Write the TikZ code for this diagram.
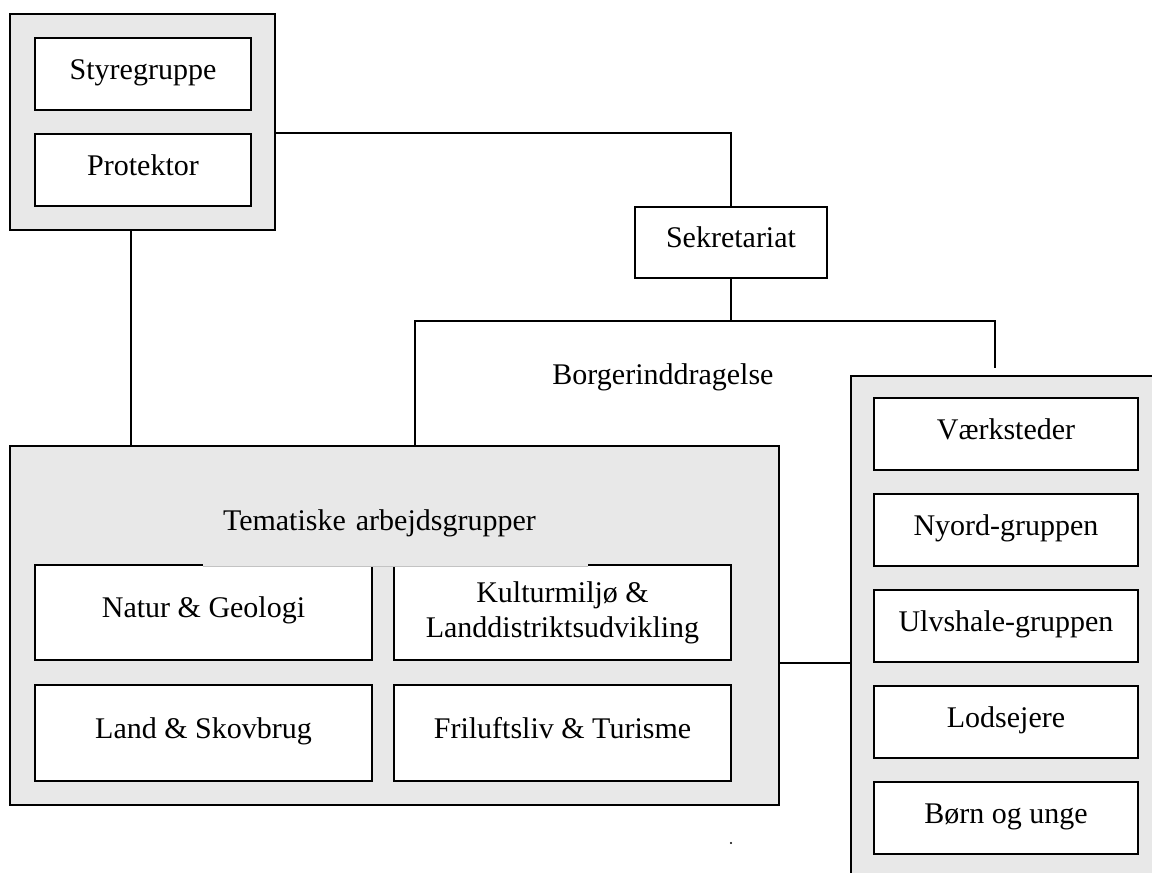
\documentclass[tikz,border=0pt]{standalone}
\usepackage{fontspec}
\setmainfont{Liberation Serif}
\usetikzlibrary{positioning}
\definecolor{panelgray}{RGB}{232,232,232}
\definecolor{covergray}{RGB}{195,195,195}
\tikzset{
  panel/.style={draw, fill=panelgray, line width=1.8pt, rectangle},
  unit/.style={draw, fill=white, line width=1.8pt, rectangle, align=center,
    font=\fontsize{30}{35}\selectfont},
  oneline/.style={text height=22pt, text depth=12pt}
}
\begin{document}
\begin{tikzpicture}[x=1pt,y=-1pt,line cap=butt]
		\useasboundingbox (0,0) rectangle (1152,873);
		% top group
		\node[panel, minimum width=265pt, minimum height=216pt] (lead) at (142.5,122) {};
		\node[unit, oneline, minimum width=216pt, minimum height=72pt] (styr) at (143,74) {Styregruppe};
		\node[unit, oneline, minimum width=216pt, minimum height=72pt] (prot) at (143,170) {Protektor};
		\node[unit, oneline, minimum width=192pt, minimum height=71pt] (sekr) at (731,242.5) {Sekretariat};
		% thematic groups
		\node[panel, minimum width=769pt, minimum height=359pt] (tema) at (394.5,625.5) {};
		\node[unit, oneline, minimum width=337pt, minimum height=95pt] (natur) at (203.5,612.5) {Natur \& Geologi};
		\node[unit, minimum width=337pt, minimum height=95pt] (kultur) at (562.5,612.5) {Kulturmiljø \&\\Landdistriktsudvikling};
		\node[unit, oneline, minimum width=337pt, minimum height=96pt] (land) at (203.5,733) {Land \& Skovbrug};
		\node[unit, oneline, minimum width=337pt, minimum height=96pt] (frilu) at (562.5,733) {Friluftsliv \& Turisme};
		\node[fill=panelgray, minimum height=86pt, inner xsep=20pt, text width=345pt, align=left,
		  font=\fontsize{30}{35}\selectfont] (tematitle) at (395.5,523) {Tematiske arbejdsgrupper};
		\draw[covergray, line width=1pt] (tematitle.south west) -- (tematitle.south east);
		% citizen involvement
		\node[panel, minimum width=329pt, minimum height=524pt] (side) at (1015.5,638) {};
		\foreach \name/\txt [count=\i from 0] in {vaerk/Værksteder, nyord/Nyord-gruppen, ulvs/Ulvshale-gruppen, lods/Lodsejere, born/Børn og unge}
		\node[unit, oneline, minimum width=264pt, minimum height=72pt] (\name) at (1006,434+96*\i) {\txt};
		\node[font=\fontsize{30}{35}\selectfont] (borger) at (663,377) {Borgerinddragelse};
		% connectors
		\coordinate (forkL) at (415,321);
		\coordinate (forkR) at (995,321);
		\draw[line width=1.5pt] (lead.east |- prot.north) -| (sekr.north);
		\draw[line width=1.5pt] (sekr.south) -- (sekr.south |- forkL);
		\draw[line width=1.5pt] (forkL |- tema.north) -- (forkL) -- (forkR) -- ++(0,47);
		\draw[line width=2.4pt] ([xshift=-11.5pt]lead.south) -- ([xshift=-11.5pt]lead.south |- tema.north);
		\draw[line width=1.5pt] (tema.east |- 0,663) -- (side.west |- 0,663);
		\fill (731,843) circle (1.2pt);
\end{tikzpicture}
\end{document}
